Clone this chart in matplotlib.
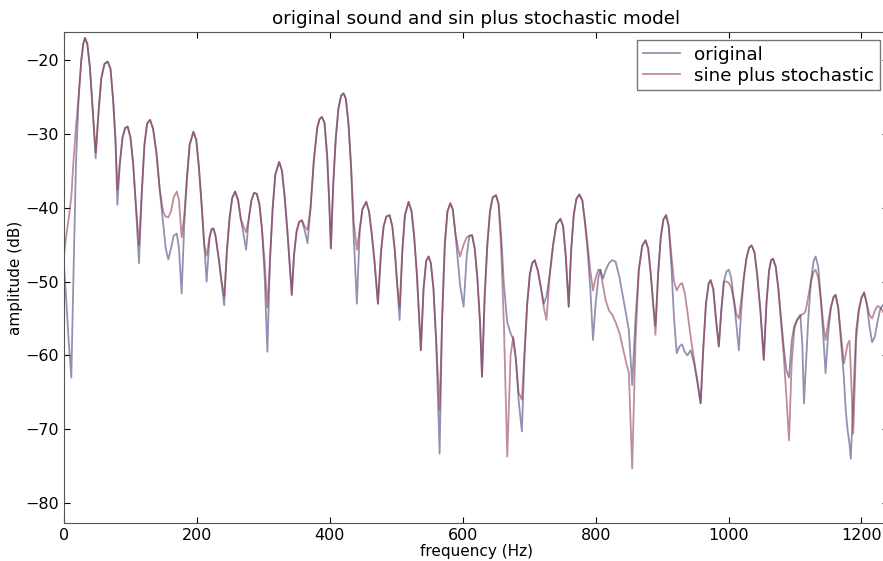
import matplotlib
matplotlib.use('Agg')
import matplotlib.pyplot as plt

# spectrum magnitudes in dB, shared frequency axis
freqs = [0, 3, 7, 11, 14, 18, 22, 26, 29, 31.6,
         35, 39, 43, 47.6, 52, 56, 61, 65.7, 70, 74,
         77.5, 80.3, 84, 88, 92, 95.8, 100, 104, 108, 112.8,
         117, 121, 125, 129.5, 134, 139, 144, 149, 153, 157,
         161, 165, 169.7, 173, 177, 181, 185, 189, 194.7, 199,
         203, 207, 211, 214.6, 219, 222, 224.8, 228, 233, 237,
         241, 245, 249, 253, 257.5, 262, 266, 270, 274, 278,
         282, 286, 290, 294, 298, 302, 306, 310, 314, 318,
         323.8, 328, 332, 336, 339.5, 342.8, 346, 350, 354, 358,
         362, 366.4, 371, 376, 381, 384.5, 388, 392, 396, 399,
         401.6, 405, 409, 413, 417, 420.6, 424, 428, 432, 436,
         440.7, 445, 449, 454.8, 459, 463, 467, 472.4, 477, 481,
         485, 489.9, 494, 498, 501, 505, 509, 513, 518.5, 523,
         527, 531, 537, 541, 545, 548.7, 552, 556, 560, 565.2,
         569, 573, 577, 581.3, 585, 589, 593, 596, 601.3, 606,
         610, 614, 618, 622, 626, 629, 633, 637, 641, 645,
         650, 654, 658, 662, 667, 672, 676, 680, 684, 689,
         693, 697, 701, 704.5, 708.3, 713, 718, 722, 726, 731,
         736, 741, 747, 751, 755, 759.5, 763, 767, 771, 775.5,
         780, 784, 788, 792, 796, 800, 804, 807, 811, 815,
         820, 825, 830, 836, 841, 846, 850, 855, 860, 865,
         870, 875, 879, 883, 887, 890, 894, 898, 902, 906,
         910, 914, 918, 922, 926, 930, 934, 938, 943, 948,
         953, 958, 962, 966, 970, 973, 977, 981, 985.4, 989,
         993, 997, 1000.5, 1004, 1008, 1012, 1015.5, 1019, 1023, 1027,
         1031, 1034.6, 1039, 1043, 1048, 1053, 1057, 1061, 1064, 1067,
         1071, 1075, 1079, 1083, 1087, 1091, 1095, 1099, 1103, 1108,
         1111, 1113.5, 1116, 1120, 1124, 1128, 1131, 1135, 1139, 1143,
         1146, 1150, 1154, 1158, 1161, 1165, 1169, 1173.6, 1176, 1179,
         1182, 1184, 1187.7, 1192, 1196, 1200, 1204, 1208, 1212, 1216,
         1220, 1224, 1228, 1232, 1236, 1240]

original = [-48, -52, -58, -63, -50, -34, -25, -20, -17.8, -17.0,
            -17.8, -21, -26.5, -33.3, -27, -22.5, -20.5, -20.2, -21.2, -25.5,
            -31, -39.6, -34, -30.5, -29.2, -29.0, -30.5, -34, -39.5, -47.5,
            -38, -31.5, -28.6, -28.1, -29.3, -32.5, -37.5, -42, -45.5, -47,
            -45.5, -43.8, -43.5, -45.5, -51.6, -42, -36, -31.5, -29.7, -30.8,
            -34.5, -39.5, -45, -50, -44, -42.9, -42.8, -43.8, -47, -50,
            -53.2, -46, -41.5, -38.7, -37.8, -39, -41.5, -43.5, -45.7, -41.5,
            -39, -38, -38.1, -39.5, -43, -49.5, -59.5, -47, -40, -35.5,
            -33.8, -35, -38.5, -43, -47.5, -51.8, -46.5, -43.2, -41.9, -41.7,
            -43, -44.8, -40, -33.5, -29.2, -28, -27.7, -28.5, -33, -39,
            -45.5, -37, -30.5, -26.5, -24.8, -24.5, -25.2, -28.5, -34.5, -44,
            -53, -43, -40.2, -39.2, -40.5, -43.5, -47, -53, -46, -42.5,
            -41.2, -41, -42.5, -46, -50, -55.2, -46, -41, -39.2, -40.5,
            -44, -49, -59.3, -51, -47.2, -46.6, -47.5, -51, -58, -73.3,
            -55, -45, -40.5, -39.4, -40.2, -43.5, -47.5, -50.5, -53.4, -46.5,
            -43.8, -43.7, -45.5, -49.5, -55.5, -62.9, -52, -45, -40.5, -38.6,
            -38.3, -39.5, -44, -50.5, -55.5, -57, -57.8, -60.5, -66, -70.3,
            -60, -53, -49, -47.5, -47.1, -48.5, -51, -53, -52, -49,
            -45, -42.2, -41.5, -42.5, -46.5, -53.4, -46, -41, -38.8, -38.2,
            -39, -42, -46, -51, -57.9, -53, -49.5, -48.4, -49.6, -48.5,
            -47.5, -47.1, -47.3, -49.5, -52, -54.5, -56.6, -64, -55, -48.4,
            -45.2, -44.4, -45.5, -49, -53.5, -56, -49, -44, -41.6, -41,
            -42.5, -48, -55, -59.7, -58.8, -58.5, -59.5, -60, -59.3, -61,
            -63.5, -66.5, -59, -53, -50.3, -49.8, -51, -55, -58.8, -54,
            -50, -48.6, -48.4, -49.5, -52.5, -56, -59.3, -54, -49.5, -46.8,
            -45.4, -45.1, -46, -49, -54, -60.6, -53, -48.5, -47.1, -46.9,
            -48, -51, -55, -58.8, -62, -63, -58, -56, -55.2, -54.5,
            -58.5, -66.5, -62, -55, -50, -47.2, -46.6, -48, -52.5, -58,
            -62.4, -57, -53.5, -52.1, -51.8, -53.5, -58, -63, -67, -70,
            -72, -74, -66, -56.6, -53.9, -52.2, -51.4, -53, -56, -58.2,
            -57.5, -55.5, -53.8, -53.2, -53.5, -54]

sine_stoch = [-46.5, -44, -41.5, -38.5, -34, -29, -25, -20, -17.8, -17.0,
              -17.8, -21, -26.5, -32.5, -27, -22.5, -20.5, -20.2, -21.2, -25.5,
              -31, -37.5, -34, -30.5, -29.2, -29.0, -30.5, -34, -39.5, -45,
              -38, -31.5, -28.6, -28.1, -29.3, -32.5, -37.5, -40.5, -41.2, -41.3,
              -40.5, -38.6, -37.8, -39, -44, -41, -36, -31.5, -29.7, -30.8,
              -34.5, -39.5, -45, -46.5, -44, -42.9, -42.8, -43.8, -47, -50,
              -52, -46, -41.5, -38.7, -37.8, -39, -41.5, -42.5, -43.3, -41.5,
              -39, -38, -38.1, -39.5, -43, -47.5, -53.5, -47, -40, -35.5,
              -33.8, -35, -38.5, -43, -47.5, -51.8, -46.5, -43.2, -41.9, -41.7,
              -42.5, -43, -40, -33.5, -29.2, -28, -27.7, -28.5, -33, -39,
              -45.5, -37, -30.5, -26.5, -24.8, -24.5, -25.2, -28.5, -34.5, -42,
              -45.7, -43, -40.2, -39.2, -40.5, -43.5, -47, -53, -46, -42.5,
              -41.2, -41, -42.5, -46, -50, -53.5, -46, -41, -39.2, -40.5,
              -44, -49, -59.3, -51, -47.2, -46.6, -47.5, -51, -58, -67.4,
              -55, -45, -40.5, -39.4, -40.2, -43.5, -45.5, -46.6, -45, -44,
              -43.8, -43.7, -45.5, -49.5, -55.5, -62.9, -52, -45, -40.5, -38.6,
              -38.3, -39.5, -46, -56, -73.7, -60, -57.5, -60.5, -65, -66,
              -59.5, -53, -49, -47.5, -47.1, -48.5, -51, -53.5, -55.2, -49,
              -45, -42.2, -41.5, -42.5, -46.5, -53.4, -46, -41, -38.8, -38.2,
              -39, -42, -45, -48.5, -51.2, -49.5, -48.4, -48.4, -50.5, -52.5,
              -53.9, -54.5, -55.5, -57, -59, -61, -62.4, -75.3, -58, -48.4,
              -45.2, -44.4, -45.5, -49, -53.5, -57.2, -49, -44, -41.6, -41,
              -42.5, -46.5, -50, -51.2, -50.5, -50.2, -51.5, -54, -57.5, -60.5,
              -63.5, -66.5, -59, -53, -50.3, -49.8, -51, -55, -58.8, -54,
              -50, -50, -50.2, -50.8, -52.5, -54.5, -55, -52.5, -49.5, -46.8,
              -45.4, -45.1, -46, -49, -54, -60.6, -53, -48.5, -47.1, -46.9,
              -48, -51, -55.5, -60, -65.5, -71.5, -61, -56.5, -55.2, -54.7,
              -54.4, -54.3, -54, -52, -50, -48.7, -48.4, -49.5, -52.5, -56,
              -57.9, -55.5, -53.5, -52.1, -51.8, -53.5, -57, -61.1, -60, -58.5,
              -58, -62, -70.6, -58, -53.9, -52.2, -51.6, -53, -54.5, -55,
              -54, -53.3, -53.5, -54, -54.5, -55]

assert len(freqs) == len(original) == len(sine_stoch)

fig = plt.figure(figsize=(8.83, 5.61), dpi=100)
ax = fig.add_axes([0.0725, 0.0677, 0.9332, 0.8752])

ax.plot(freqs, original, color=(0.22, 0.22, 0.45), alpha=0.55, lw=1.3, label='original')
ax.plot(freqs, sine_stoch, color=(0.55, 0.18, 0.28), alpha=0.55, lw=1.3, label='sine plus stochastic')

ax.set_xlim(0, 1240)
ax.set_ylim(-82.7, -16.2)
ax.set_xticks([0, 200, 400, 600, 800, 1000, 1200])
ax.set_yticks([-80, -70, -60, -50, -40, -30, -20])
ax.tick_params(direction='in', top=True, right=True, labelsize=11.5, length=4)
for s in ax.spines.values():
    s.set_color('#555555')

ax.set_title('original sound and sin plus stochastic model', fontsize=13.2)
ax.set_xlabel('frequency (Hz)', fontsize=11, labelpad=1)
ax.set_ylabel('amplitude (dB)', fontsize=11, labelpad=2)

leg = ax.legend(loc='upper right', fontsize=13.2, fancybox=False, borderaxespad=0.45,
                handlelength=2.0, borderpad=0.3, labelspacing=0.15)
leg.get_frame().set_edgecolor('#555555')

fig.savefig('out.png', dpi=100, facecolor='white')
